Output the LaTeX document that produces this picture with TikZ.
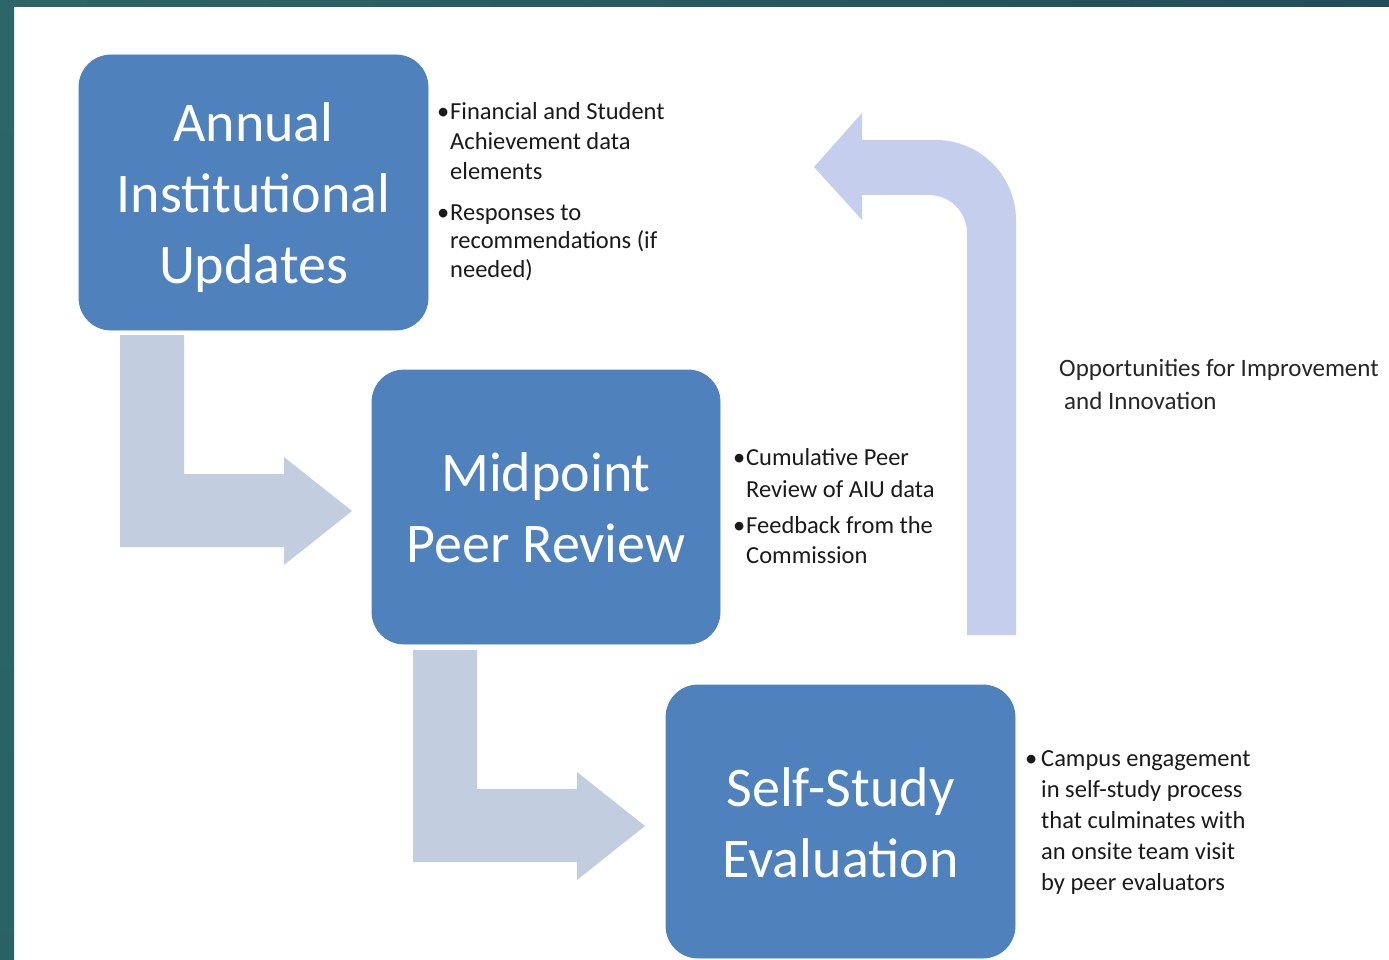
\documentclass[tikz,border=0pt]{standalone}
\usepackage{fontspec}
\setmainfont{Carlito}
\definecolor{boxblue}{HTML}{4F81BD}
\definecolor{larrow}{HTML}{C2CDE0}
\definecolor{uparrow}{HTML}{C5CEEC}
\definecolor{tealA}{HTML}{2C6666}
\definecolor{tealB}{HTML}{1F4E58}
\definecolor{txt}{HTML}{1A1A1A}
\tikzset{
  stagebox/.style={draw=boxblue, fill=boxblue, rounded corners=32pt, line width=0.8pt},
  stagetext/.style={text=white, align=center, anchor=base, inner sep=0pt,
    font=\fontsize{56}{71}\selectfont},
  bullettext/.style={text=txt, align=left, anchor=base west, inner sep=0pt,
    font=\fontsize{24.5}{30}\selectfont},
}
\begin{document}
\begin{tikzpicture}[x=1pt,y=-1pt]
\useasboundingbox (0,0) rectangle (1389,960);
\fill[white] (0,0) rectangle (1389,960);
% frame strips
\shade[left color=tealA, right color=tealB] (0,0) rectangle (1389,7);
\shade[top color=tealA, bottom color=tealA!85!tealB] (0,0) rectangle (14,960);

% block arrows
\fill[larrow] (120,335) -- (184,335) -- (184,474) -- (284,474) -- (284,457)
  -- (352,511) -- (284,565) -- (284,547) -- (120,547) -- cycle;
\fill[larrow] (413,650) -- (477,650) -- (477,789) -- (577,789) -- (577,772)
  -- (645,826) -- (577,880) -- (577,862) -- (413,862) -- cycle;
\fill[uparrow] (967,635) -- (967,233)
  .. controls (967,212) and (950,195) .. (929,195)
  -- (862,195) -- (862,220) -- (814,167) -- (862,113) -- (862,140)
  -- (936,140) .. controls (980,140) and (1016,176) .. (1016,220)
  -- (1016,635) -- cycle;

% stage boxes
\path[stagebox] (79,55) rectangle (428,330);
\path[stagebox] (372,370) rectangle (720,644);
\path[stagebox] (666,685) rectangle (1015,958);

% titles (anchor = baseline of last line)
\node[stagetext] (t1) at (253.5,283) {Annual\\Institutional\\Updates};
\node[stagetext] (t2) at (546,562) {Midpoint\\Peer Review};
\node[stagetext] (t3) at (840.5,877) {Self-Study\\Evaluation};

% bullet texts (anchor = baseline of last line)
\node[bullettext] (n1a) at (450,180) {\llap{\textbullet\hspace{1pt}}Financial and Student\\Achievement data\\elements};
\node[bullettext, font=\fontsize{24.5}{28.5}\selectfont] (n1b) at (450,277) {\llap{\textbullet\hspace{1pt}}Responses to\\recommendations (if\\needed)};
\node[bullettext, font=\fontsize{24.5}{32}\selectfont] (n2a) at (746,497) {\llap{\textbullet\hspace{1pt}}Cumulative Peer\\Review of AIU data};
\node[bullettext] (n2b) at (746,563) {\llap{\textbullet\hspace{1pt}}Feedback from the\\Commission};
\node[bullettext, font=\fontsize{24.5}{30.8}\selectfont] (n3a) at (1041,890) {\llap{\textbullet\hspace{4pt}}Campus engagement\\in self-study process\\that culminates with\\an onsite team visit\\by peer evaluators};

\node[bullettext, text=black!85, font=\fontsize{25}{33}\selectfont] (opp) at (1059,409) {Opportunities for Improvement\\\hspace*{5pt}and Innovation};
\end{tikzpicture}
\end{document}
